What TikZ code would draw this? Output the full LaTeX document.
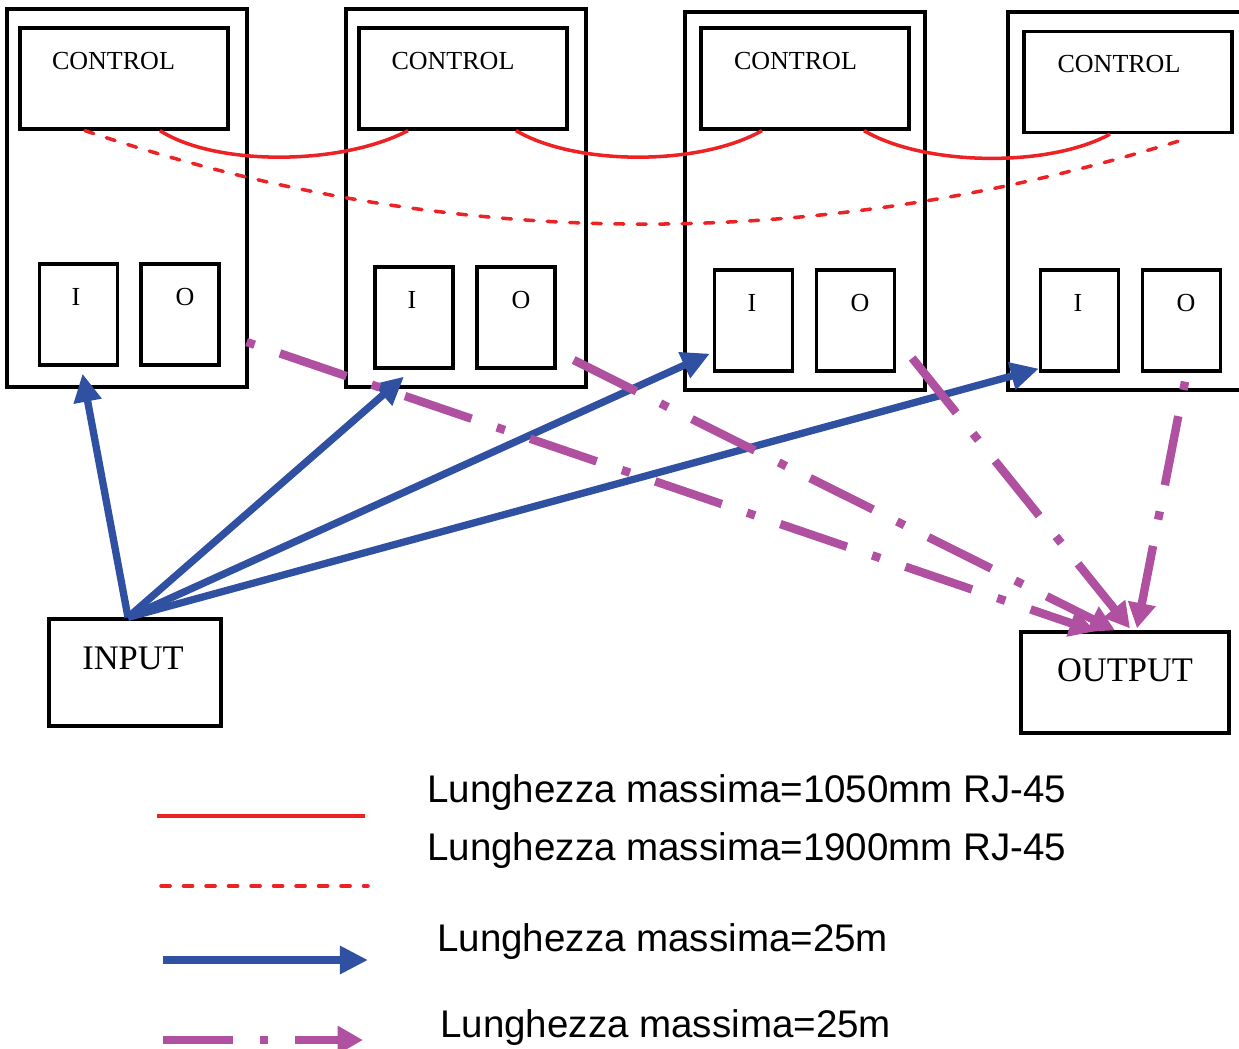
\documentclass[tikz,border=0pt]{standalone}
\usepackage{fontspec}
\setmainfont{Liberation Serif}
\newfontfamily\legendfont{Liberation Sans}
\usetikzlibrary{arrows.meta}
\definecolor{cablered}{RGB}{236,34,36}
\definecolor{cableblue}{RGB}{48,80,162}
\definecolor{cablemag}{RGB}{176,80,160}

\begin{document}
\begin{tikzpicture}[x=0.025cm, y=-0.025cm,
    unitbox/.style={rectangle,draw=black,line width=2.3pt,inner sep=0pt,
      minimum width=6cm,minimum height=9.45cm},
    ctrlbox/.style={rectangle,draw=black,line width=2.3pt,inner sep=0pt,
      minimum width=5.2cm,minimum height=2.525cm},
    portbox/.style={rectangle,draw=black,line width=2.3pt,inner sep=0pt,
      minimum width=1.95cm,minimum height=2.525cm},
    endbox/.style={rectangle,draw=black,line width=2.3pt,inner sep=0pt},
    lbl/.style={inner sep=0pt,font=\fontsize{18.5}{22}\selectfont},
    biglbl/.style={inner sep=0pt,font=\fontsize{24.5}{29}\selectfont},
    keytext/.style={inner sep=0pt,anchor=base west,
      font=\legendfont\fontsize{27.4}{33}\selectfont},
    redline/.style={draw=cablered,line width=2.5pt},
    reddash/.style={redline,line cap=round,dash pattern=on 6.5pt off 9.5pt},
    bluearrow/.style={->,>={Triangle[length=20pt,width=19pt]},
      draw=cableblue,line width=5.2pt},
    magarrow/.style={->,>={Triangle[length=18pt,width=19pt]},
      draw=cablemag,line width=6pt,
      dash pattern=on 6pt off 19pt on 50pt off 19pt}]

  \useasboundingbox (0,0) rectangle (1239,1048);

  \node[unitbox] (u1) at (127,198) {};
  \node[ctrlbox] (c1) at (124,78.5) {};
  \node[portbox] (i1) at (78.5,314.5) {};
  \node[portbox] (o1) at (180,314.5) {};
  \node[unitbox] (u2) at (466,198) {};
  \node[ctrlbox] (c2) at (463,78.5) {};
  \node[portbox] (i2) at (414,317.5) {};
  \node[portbox] (o2) at (516,317.5) {};
  \node[unitbox] (u3) at (805,201) {};
  \node[ctrlbox] (c3) at (805,78.5) {};
  \node[portbox] (i3) at (753.5,320.5) {};
  \node[portbox] (o3) at (855.5,320.5) {};
  \node[unitbox] (u4) at (1128,201) {};
  \node[ctrlbox] (c4) at (1128,82) {};
  \node[portbox] (i4) at (1079.5,320.5) {};
  \node[portbox] (o4) at (1181.5,320.5) {};

  \node[lbl] (c1t) at (113.5,61.5) {CONTROL};
  \node[lbl] (c2t) at (453,61.5) {CONTROL};
  \node[lbl] (c3t) at (795.5,61.5) {CONTROL};
  \node[lbl] (c4t) at (1119,64.5) {CONTROL};
  \node[lbl] (i1t) at (76,297) {I};
  \node[lbl] (o1t) at (185,297) {O};
  \node[lbl] (i2t) at (412,300) {I};
  \node[lbl] (o2t) at (521,300) {O};
  \node[lbl] (i3t) at (752,303) {I};
  \node[lbl] (o3t) at (860,303) {O};
  \node[lbl] (i4t) at (1078,303) {I};
  \node[lbl] (o4t) at (1186,303) {O};

  \node[endbox,minimum width=4.3cm,minimum height=2.675cm] (input) at (135,672.5) {};
  \node[biglbl] (inputt) at (133,658) {INPUT};
  \node[endbox,minimum width=5.2cm,minimum height=2.525cm] (output) at (1125,682.5) {};
  \node[biglbl] (outputt) at (1125,670) {OUTPUT};

  \draw[redline] ([shift={(36,0)}]c1.south) .. controls (215,166) and (340,166) .. ([shift={(-55,0)}]c2.south);
  \draw[redline] ([shift={(53,0)}]c2.south) .. controls (576,166) and (700,166) .. ([shift={(-43,0)}]c3.south);
  \draw[redline] ([shift={(59,0)}]c3.south) .. controls (924,166) and (1048,168) .. ([shift={(-18,0)}]c4.south);
  \draw[reddash] ([shift={(-39,0)}]c1.south) .. controls (450,254) and (820,254) .. ([shift={(60,4)}]c4.south);

  \draw[bluearrow] ([shift={(-7,0)}]input.north) -- ([shift={(4,7)}]i1.south);
  \draw[bluearrow] ([shift={(-7,0)}]input.north) -- ([shift={(-10,7)}]i2.south);
  \draw[bluearrow] ([shift={(-7,0)}]input.north) -- ([shift={(-3,-19)}]i3.south west);
  \draw[bluearrow] ([shift={(-7,0)}]input.north) -- ([shift={(0,-4)}]i4.south west);

  \draw[magarrow] ([shift={(26,27.5)}]o1.east) -- ([shift={(-30,1)}]output.north);
  \draw[magarrow,dash phase=25pt] ([shift={(17,42.5)}]o2.east) -- ([shift={(-10,0)}]output.north);
  \draw[magarrow,dash phase=25pt] ([shift={(16,37.5)}]o3.east) -- ([shift={(5,-2)}]output.north);
  \draw[magarrow] ([shift={(3.5,9)}]o4.south) -- ([shift={(12,-2)}]output.north);

  \coordinate (k1a) at (157,816);
  \coordinate (k1b) at (365,816);
  \coordinate (k2a) at (161,886);
  \coordinate (k2b) at (368,886);
  \coordinate (k3a) at (163,960);
  \coordinate (k3b) at (368,960);
  \coordinate (k4a) at (163,1040);
  \coordinate (k4b) at (363,1040);
  \draw[redline] (k1a) -- (k1b);
  \draw[reddash] (k2a) -- (k2b);
  \draw[bluearrow,line width=5.7pt] (k3a) -- (k3b);
  \draw[magarrow,dash phase=25pt] (k4a) -- (k4b);

  \node[keytext] (k1t) at (427,802) {Lunghezza massima=1050mm RJ-45};
  \node[keytext] (k2t) at (427,860) {Lunghezza massima=1900mm RJ-45};
  \node[keytext] (k3t) at (437,951) {Lunghezza massima=25m};
  \node[keytext] (k4t) at (440,1037) {Lunghezza massima=25m};

\end{tikzpicture}
\end{document}
